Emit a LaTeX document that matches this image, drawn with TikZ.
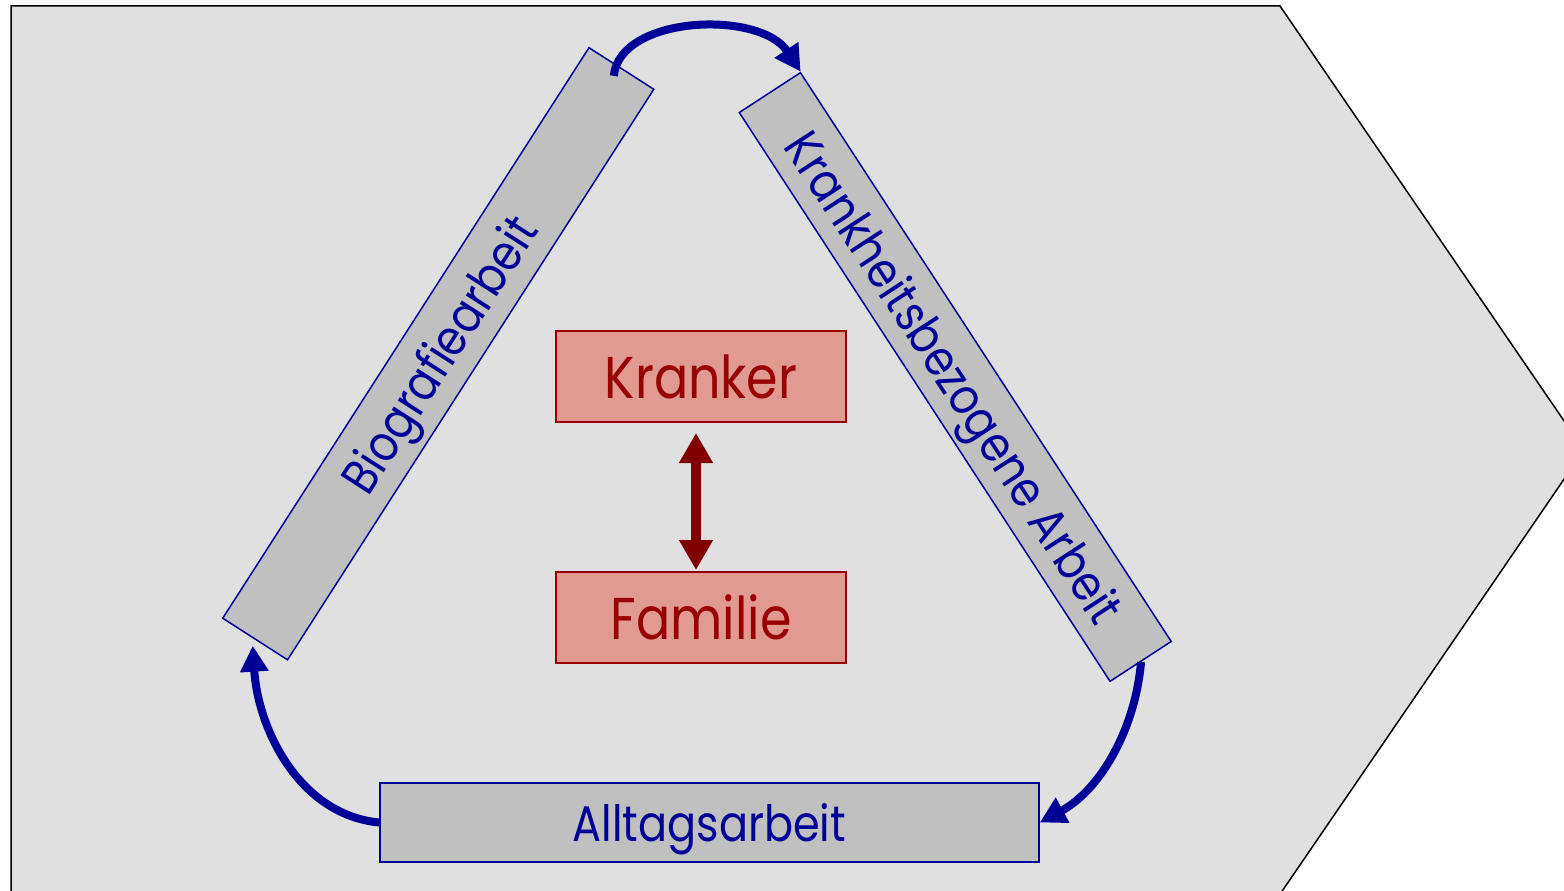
\documentclass[tikz,border=0pt]{standalone}
\usepackage{fontspec}
\setmainfont{Poppins}[FakeStretch=0.86]
\usetikzlibrary{arrows.meta}
\definecolor{bgfill}{HTML}{E0E0E0}
\definecolor{boxfill}{HTML}{C0C0C0}
\definecolor{navy}{HTML}{000099}
\definecolor{salmon}{HTML}{E09A90}
\definecolor{darkred}{HTML}{990000}
\definecolor{arrowred}{HTML}{800000}
\tikzset{
  workbox/.style={draw=navy, line width=1.5pt, fill=boxfill, text=navy, inner sep=0pt,
    text depth=0pt, font=\fontsize{50}{60}\selectfont},
  personbox/.style={draw=darkred, line width=2pt, fill=salmon, text=darkred, inner sep=0pt,
    text depth=0pt, minimum width=290pt, minimum height=91pt, font=\fontsize{59}{70}\selectfont},
  cyclearrow/.style={draw=navy, line width=8pt, -{Triangle[length=26pt,width=27pt]}},
  relarrow/.style={draw=arrowred, line width=10pt, {Triangle[length=30pt,width=32pt]}-{Triangle[length=30pt,width=32pt]}}
}
\begin{document}
\begin{tikzpicture}[x=1pt,y=-1pt]
\useasboundingbox (0,0) rectangle (1564,891);
\begin{scope}
\clip (0,0) rectangle (1564,891);
\draw[fill=bgfill, line width=1.5pt] (11,900) -- (11,6) -- (1280,6) -- (1584,450) -- (1276,900) -- cycle;
\end{scope}

\node[workbox, minimum width=678pt, minimum height=77pt, rotate=57.3] (bio) at (438.25,353.75) {Biografiearbeit};
\node[workbox, minimum width=679pt, minimum height=73pt, rotate=-56.9] (krank) at (955.25,377) {Krankheitsbezogene Arbeit};
\node[workbox, minimum width=659pt, minimum height=79pt] (alltag) at (709.5,822.5) {Alltagsarbeit};

\node[personbox] (kranker) at (701,376.5) {Kranker};
\node[personbox] (familie) at (701,617.5) {Familie};

\draw[relarrow] ([yshift=-10pt]kranker.south -| 696,0) -- ([yshift=1pt]familie.north -| 696,0);

\draw[cyclearrow] ([shift={(-8pt,-8pt)}]bio.east) .. controls (620,15) and (760,10) .. (krank.north west);
\draw[cyclearrow] (krank.east) .. controls (1135,730) and (1100,790) .. (alltag.east);
\draw[cyclearrow] (alltag.west) .. controls (300,815) and (258,730) .. ([shift={(-2pt,-6pt)}]bio.west);
\end{tikzpicture}
\end{document}
